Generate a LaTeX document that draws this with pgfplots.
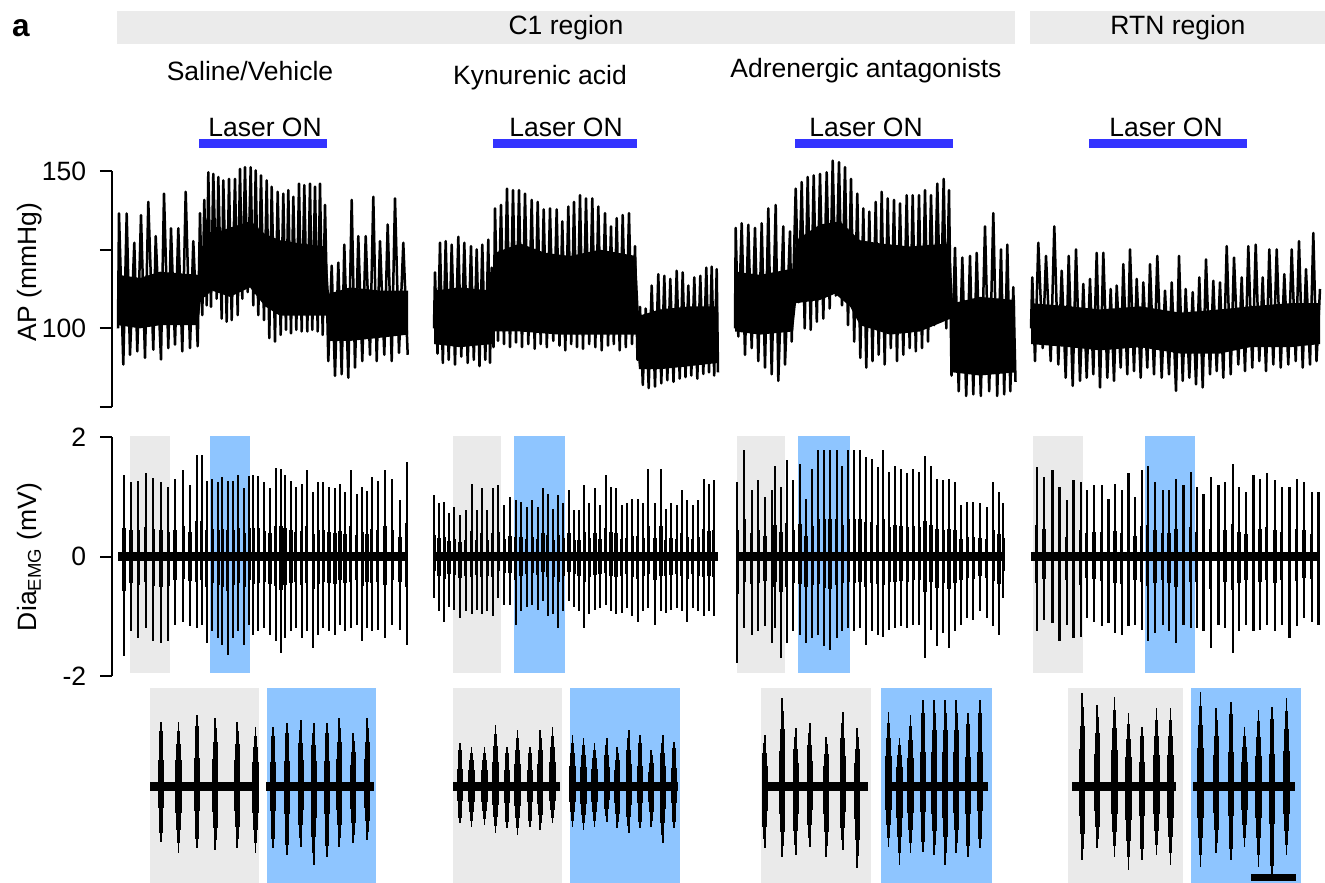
\documentclass[border=0pt]{standalone}
\usepackage{fontspec}
\setmainfont{Liberation Sans}
\usepackage{pgfplots}
\pgfplotsset{compat=1.18}
\usepackage{pgfplotstable}
\definecolor{hdr}{RGB}{235,235,235}
\definecolor{shgray}{RGB}{234,234,234}
\definecolor{shblue}{RGB}{142,197,255}
\definecolor{laser}{RGB}{51,51,255}
\newcommand\fs{\fontsize{10.6pt}{12.7pt}\selectfont}

% ---------- AP traces (x in px, y in mmHg) ----------
\pgfplotstableread{
x y
118.0 100.0
119.0 136.5
123.3 88.5
126.7 136.5
130.0 91.6
134.3 127.2
137.3 92.7
141.0 136.0
145.0 90.6
148.3 140.2
153.3 93.2
155.7 129.3
161.0 90.1
164.0 142.8
168.3 93.7
171.0 131.8
175.0 94.8
178.3 131.8
182.3 92.7
185.7 143.4
190.0 93.7
193.3 127.7
197.7 94.3
200.0 136.6
202.3 104.2
204.3 140.8
206.7 107.3
208.3 149.6
211.0 106.8
213.3 149.1
216.7 109.4
218.3 148.1
221.7 103.1
223.3 147.0
226.7 102.1
229.0 147.5
231.7 102.6
235.0 147.5
237.7 104.2
240.0 150.7
242.3 109.4
245.0 151.2
247.7 111.5
250.7 151.2
253.3 107.3
255.7 150.2
258.3 104.2
261.0 148.6
264.0 102.6
266.7 147.0
269.3 96.9
271.7 145.0
275.0 95.8
277.7 143.4
280.7 97.9
283.3 142.8
286.0 99.5
288.3 143.9
291.0 98.4
293.3 141.8
296.3 99.5
299.0 146.0
301.7 99.0
304.3 145.5
307.3 99.0
310.0 146.0
312.3 99.5
315.0 145.0
317.7 99.0
320.0 146.0
322.7 97.9
325.0 139.2
328.3 89.6
331.7 119.9
335.0 84.9
338.3 120.9
341.7 85.4
344.3 126.6
348.3 84.3
351.7 140.8
355.0 87.5
358.3 129.3
362.3 89.6
365.7 129.3
370.0 91.6
373.3 141.8
376.7 89.6
380.0 127.7
384.3 91.6
387.7 133.0
391.7 89.6
395.0 141.3
399.0 92.2
403.3 127.2
407.7 91.6
}\apA
\pgfplotstableread{
x y
434.0 100.0
435.0 117.8
437.5 92.0
440.0 127.2
442.8 89.0
445.7 127.7
448.7 90.0
451.7 126.6
455.0 88.5
458.3 129.1
461.3 91.0
464.3 127.2
467.7 89.0
471.0 126.1
473.8 90.0
476.7 125.1
479.5 88.0
482.3 126.6
485.3 90.0
488.3 128.2
490.0 89.0
491.7 119.3
493.5 94.0
495.0 138.1
498.0 96.0
501.0 139.2
504.0 95.0
507.0 144.4
510.0 94.0
513.0 143.9
516.0 95.5
519.0 143.9
522.0 94.0
525.0 142.8
528.3 95.0
531.7 140.8
534.7 93.5
537.7 140.2
540.7 95.0
543.7 137.8
546.8 94.0
550.0 138.1
553.3 96.0
556.7 137.8
559.5 94.5
562.3 134.0
565.3 93.0
568.3 138.7
571.2 95.0
574.0 140.2
577.0 94.0
580.0 142.3
583.0 93.5
586.0 141.3
589.2 95.0
592.3 141.3
595.3 94.0
598.3 138.7
601.7 93.0
605.0 136.6
608.0 94.5
611.0 132.4
613.8 95.0
616.7 135.0
619.7 93.0
622.7 136.0
625.8 94.0
629.0 136.6
632.0 95.0
635.0 126.1
637.5 90.0
640.0 106.8
642.8 82.0
645.7 106.3
648.7 81.0
651.7 113.6
655.0 81.5
658.3 117.2
661.3 82.5
664.3 116.7
667.3 83.5
670.3 115.7
673.5 83.0
676.7 118.3
679.7 84.0
682.7 117.8
685.5 84.5
688.3 113.6
691.3 85.0
694.3 116.2
697.3 84.0
700.3 116.7
703.3 85.5
706.3 119.3
709.0 86.0
711.7 119.6
714.2 85.0
716.7 118.8
718.0 86.0
}\apB
\pgfplotstableread{
x y
735.0 100.0
735.7 131.9
738.3 97.4
741.7 133.4
745.0 91.6
748.3 132.9
751.7 93.7
755.0 131.9
758.3 89.6
761.7 133.4
765.0 87.5
768.3 138.1
771.7 85.4
775.7 139.2
778.3 83.3
783.3 132.4
785.0 88.5
790.0 130.8
791.7 95.8
795.7 144.4
798.7 108.3
801.7 146.5
804.7 100.0
807.7 148.1
810.7 99.5
813.7 148.6
816.8 102.1
820.0 149.1
823.3 103.1
826.7 149.6
829.7 106.3
832.7 153.3
835.8 110.4
839.0 152.8
842.0 107.3
845.0 151.2
848.0 101.0
851.0 147.5
854.2 95.8
857.3 142.8
860.3 90.6
863.3 138.1
866.3 87.5
869.3 137.1
872.5 89.6
875.7 140.2
878.7 91.6
881.7 143.4
884.7 88.5
887.7 141.3
890.8 93.7
894.0 140.8
897.0 89.6
900.0 139.7
903.3 91.6
906.7 142.3
909.7 93.7
912.7 142.3
915.8 92.7
919.0 142.3
922.0 93.7
925.0 143.9
928.0 95.8
931.0 142.3
934.2 101.0
937.3 146.0
940.5 102.1
943.7 147.5
946.3 100.0
949.0 143.9
951.5 85.0
955.0 125.6
958.7 80.0
962.3 122.5
966.2 78.5
970.0 123.0
973.3 79.0
976.7 124.0
980.8 78.5
985.0 132.4
989.2 80.0
993.3 136.6
997.2 78.5
1001.0 125.1
1004.2 79.0
1007.3 126.6
1010.3 80.0
1013.3 113.1
1015.5 83.0
}\apC
\pgfplotstableread{
x y
1031.0 100.0
1032.3 116.2
1035.0 89.6
1038.3 127.2
1042.7 93.7
1046.0 123.0
1050.7 89.6
1054.3 132.4
1058.3 88.5
1061.7 118.3
1065.7 84.3
1068.7 123.0
1072.7 81.7
1076.0 125.1
1080.0 83.3
1083.3 114.1
1086.7 84.3
1090.0 115.7
1093.3 85.4
1096.7 124.0
1100.0 81.2
1103.3 124.0
1107.3 84.3
1110.7 112.5
1114.0 83.3
1116.7 113.6
1120.7 87.5
1123.3 120.4
1127.3 85.4
1130.0 125.1
1134.0 86.4
1136.7 115.7
1140.7 84.3
1143.3 114.6
1147.3 87.5
1150.0 120.4
1154.0 85.4
1157.3 123.0
1161.7 84.3
1165.0 112.0
1169.0 85.4
1171.7 114.6
1176.0 80.1
1179.0 123.0
1182.7 83.3
1185.7 112.5
1189.3 84.3
1192.7 111.5
1196.0 82.2
1199.3 116.2
1202.7 81.2
1206.0 121.9
1210.0 85.4
1213.3 115.1
1216.7 86.4
1220.0 114.6
1223.3 84.3
1226.7 126.1
1230.7 85.4
1234.0 122.5
1238.3 88.5
1241.7 116.2
1245.0 86.4
1248.3 126.1
1252.3 87.5
1255.7 126.6
1259.3 89.6
1262.7 116.2
1266.0 86.4
1269.3 125.1
1273.3 88.5
1276.7 125.1
1280.7 87.5
1284.3 117.2
1288.3 88.5
1291.7 125.1
1295.7 89.6
1299.0 127.7
1302.7 87.5
1306.0 118.8
1310.0 88.5
1313.3 130.3
1316.5 89.6
1320.0 112.5
}\apD

% ---------- EMG bursts (x in px, top and bottom in mV) ----------
\pgfplotstableread{
x t b
124.0 1.36 -1.67
131.0 1.25 -1.25
138.3 1.26 -1.36
145.7 1.39 -1.20
153.3 1.31 -1.42
161.0 1.25 -1.45
168.3 1.16 -1.42
175.0 1.29 -1.14
183.3 1.45 -1.09
190.0 1.19 -1.17
196.7 1.70 -1.20
201.7 1.70 -1.14
206.7 1.27 -1.45
212.3 1.30 -1.25
218.3 1.25 -1.36
222.3 1.33 -1.48
227.7 1.26 -1.64
233.3 1.27 -1.36
238.3 1.36 -1.25
244.3 1.14 -1.48
249.3 1.35 -1.14
253.3 1.36 -1.31
258.3 1.35 -1.25
264.3 1.24 -1.20
270.0 1.14 -1.31
275.7 1.48 -1.42
281.0 1.47 -1.61
285.0 1.36 -1.36
291.0 1.27 -1.25
295.7 1.16 -1.20
301.7 1.22 -1.36
306.7 1.44 -1.25
313.3 1.08 -1.53
318.3 1.25 -1.31
323.3 1.25 -1.20
329.0 1.16 -1.25
335.0 1.14 -1.31
340.0 1.22 -1.14
345.0 1.08 -1.25
350.7 1.44 -1.20
356.7 1.05 -1.14
362.3 1.16 -1.42
367.0 1.10 -1.20
371.7 1.33 -1.25
377.7 1.27 -1.23
385.0 1.44 -1.36
392.3 1.29 -1.14
400.0 0.94 -1.23
406.7 1.58 -1.48
}\emgA
\pgfplotstableread{
x t b
434.3 1.03 -0.70
439.0 0.89 -0.92
444.3 0.91 -1.09
449.0 0.72 -0.84
454.3 0.83 -0.89
460.0 0.69 -1.03
465.7 0.78 -0.92
471.7 1.22 -0.97
476.7 0.78 -0.89
481.7 1.14 -0.97
487.3 0.78 -0.92
492.7 1.14 -1.00
498.3 1.19 -0.70
504.3 0.86 -0.81
510.0 1.00 -0.81
515.7 0.94 -1.14
521.0 0.91 -0.92
526.7 0.83 -0.84
532.3 0.94 -0.81
537.7 0.83 -0.89
543.0 1.14 -0.75
547.7 1.05 -1.00
553.3 0.80 -0.97
558.3 1.03 -1.20
563.3 0.89 -0.92
569.0 1.11 -0.75
574.3 0.78 -0.84
579.0 0.78 -0.92
584.3 1.19 -1.20
589.3 0.89 -0.97
595.0 1.14 -0.89
600.0 0.86 -0.86
605.7 1.36 -0.81
611.0 1.16 -0.92
616.0 1.14 -0.97
621.7 0.86 -0.95
626.7 0.89 -0.86
632.3 0.97 -1.00
637.7 0.97 -1.09
643.3 0.89 -0.92
648.3 1.47 -0.86
655.0 0.89 -1.14
661.0 1.47 -0.92
665.7 0.80 -0.95
671.0 0.89 -0.89
676.7 0.86 -0.86
681.7 1.11 -0.92
687.3 0.94 -1.09
692.7 0.86 -0.86
698.3 0.94 -0.92
703.7 1.30 -1.00
709.0 1.22 -0.92
713.7 1.28 -1.00
}\emgB
\pgfplotstableread{
x t b
737.3 1.25 -1.78
744.3 1.78 -1.20
751.7 1.11 -1.31
758.3 1.28 -1.25
765.0 1.00 -1.17
772.3 1.11 -1.45
775.0 1.52 -1.20
781.0 1.16 -1.70
786.7 1.61 -1.45
793.3 1.28 -1.25
800.0 1.55 -1.31
806.0 0.97 -1.45
812.3 1.47 -1.36
818.3 1.78 -1.31
824.3 1.78 -1.50
830.0 1.78 -1.56
836.7 1.78 -1.36
842.3 1.52 -1.25
848.3 1.78 -1.20
854.3 1.78 -1.25
860.0 1.78 -1.20
865.7 1.66 -1.48
871.7 1.64 -1.25
877.7 1.50 -1.31
883.3 1.78 -1.34
889.3 1.42 -1.23
895.0 1.52 -1.20
901.0 1.47 -1.17
907.3 1.39 -1.20
913.3 1.47 -1.14
919.3 1.42 -1.14
925.0 1.69 -1.70
931.0 1.52 -1.23
937.0 1.30 -1.50
943.3 1.28 -1.28
949.0 1.30 -1.53
955.0 1.25 -1.25
961.0 0.86 -1.14
967.3 0.91 -1.03
973.3 0.91 -1.06
980.0 0.89 -0.92
986.7 0.83 -1.03
993.3 1.25 -1.17
999.0 1.08 -1.31
1003.3 0.89 -0.70
}\emgC
\pgfplotstableread{
x t b
1036.7 1.50 -1.25
1044.0 1.33 -1.06
1052.3 1.44 -1.11
1059.3 1.16 -1.42
1066.7 0.94 -1.14
1073.3 1.28 -1.36
1080.7 1.25 -1.34
1086.7 1.11 -1.03
1094.0 1.19 -1.09
1101.7 1.19 -1.17
1108.3 0.97 -1.11
1115.0 1.22 -1.28
1121.7 1.11 -1.31
1128.3 1.39 -1.17
1135.0 1.00 -1.14
1141.7 1.44 -1.23
1147.7 1.52 -1.42
1155.0 1.25 -1.28
1162.7 1.11 -1.14
1169.0 1.11 -1.25
1176.0 1.30 -1.45
1183.3 1.19 -1.14
1190.7 1.42 -1.20
1196.7 1.16 -1.20
1203.3 1.05 -1.25
1210.7 1.33 -1.53
1218.3 1.19 -1.14
1225.0 1.25 -1.20
1232.7 1.55 -1.61
1239.0 1.16 -1.25
1246.0 1.08 -1.14
1253.3 1.36 -1.25
1260.0 1.30 -1.23
1266.7 1.39 -1.14
1275.0 1.28 -1.25
1281.7 1.16 -1.14
1289.3 1.16 -1.36
1296.7 1.30 -1.17
1304.0 1.25 -1.03
1311.7 1.08 -1.09
1318.3 1.08 -1.14
}\emgD

% ---------- inset bursts (x in px, top/bottom in px from baseline) ----------
\pgfplotstableread{
x t b
161.0 64.3 -55.7
178.5 64.3 -67.3
197.0 71.0 -62.3
215.2 67.7 -64.0
237.2 64.3 -62.3
255.4 59.3 -67.3
272.9 59.3 -62.3
286.9 62.7 -69.0
300.8 66.0 -60.7
313.8 62.7 -79.0
327.1 62.7 -70.7
339.3 67.7 -60.7
353.3 52.7 -57.3
367.3 67.7 -54.0
459.9 42.7 -37.3
471.5 39.3 -40.7
484.4 39.3 -39.0
495.6 61.0 -47.3
507.1 39.3 -42.3
517.6 56.0 -49.0
529.9 39.3 -40.7
540.3 56.0 -44.0
552.6 59.3 -37.3
572.5 51.0 -40.7
583.4 47.7 -44.0
594.5 42.7 -40.7
606.8 47.7 -35.7
617.3 39.3 -42.3
628.8 56.0 -47.3
640.0 51.0 -42.3
651.2 36.0 -40.7
662.7 51.0 -57.3
673.9 44.3 -42.3
764.7 51.0 -62.3
782.2 87.7 -70.7
795.8 57.7 -69.0
809.7 62.7 -60.7
826.2 49.3 -70.7
842.7 74.3 -64.0
857.3 57.7 -82.3
888.5 74.3 -60.7
899.5 47.7 -79.0
910.4 71.0 -67.3
922.9 86.0 -65.7
934.2 86.0 -69.0
945.2 86.0 -79.0
956.2 86.0 -67.3
968.0 72.7 -70.7
980.0 86.0 -62.3
1082.2 92.7 -74.0
1097.3 81.0 -62.3
1114.5 89.3 -70.7
1128.4 72.7 -84.0
1141.9 59.3 -74.0
1156.6 77.7 -69.0
1170.5 77.7 -79.0
1200.5 94.3 -80.7
1216.3 77.7 -67.3
1231.0 84.3 -74.0
1244.5 59.3 -60.7
1258.4 76.0 -80.7
1272.0 79.3 -94.0
1286.6 87.7 -69.0
}\ins

\pgfplotsset{every tick label/.append style={font=\fs}}

\begin{document}
\begin{tikzpicture}
% ===== background: header bars, laser bars, shaded windows =====
\begin{axis}[at={(0pt,-353.2pt)}, anchor=south west, scale only axis,
  width=530pt, height=353.2pt, xmin=0, xmax=1325, ymin=0, ymax=883,
  y dir=reverse, hide axis, clip=false]
\addplot[fill=hdr, draw=none] coordinates {(117,11) (1015,11) (1015,44) (117,44)} -- cycle;
\addplot[fill=hdr, draw=none] coordinates {(1030,11) (1325,11) (1325,44) (1030,44)} -- cycle;
\addplot[laser, line width=3.3pt] coordinates {(199,143.5) (327,143.5)};
\addplot[laser, line width=3.3pt] coordinates {(493,143.5) (637,143.5)};
\addplot[laser, line width=3.3pt] coordinates {(795,143.5) (953,143.5)};
\addplot[laser, line width=3.3pt] coordinates {(1089,143.5) (1247,143.5)};
% EMG windows
\addplot[fill=shgray, draw=none] coordinates {(130,436) (170,436) (170,673) (130,673)} -- cycle;
\addplot[fill=shblue, draw=none] coordinates {(210,436) (250,436) (250,673) (210,673)} -- cycle;
\addplot[fill=shgray, draw=none] coordinates {(453,436) (501,436) (501,673) (453,673)} -- cycle;
\addplot[fill=shblue, draw=none] coordinates {(514,436) (565,436) (565,673) (514,673)} -- cycle;
\addplot[fill=shgray, draw=none] coordinates {(737,436) (785,436) (785,673) (737,673)} -- cycle;
\addplot[fill=shblue, draw=none] coordinates {(798,436) (850,436) (850,673) (798,673)} -- cycle;
\addplot[fill=shgray, draw=none] coordinates {(1033,436) (1083,436) (1083,673) (1033,673)} -- cycle;
\addplot[fill=shblue, draw=none] coordinates {(1145,436) (1195,436) (1195,673) (1145,673)} -- cycle;
% inset windows
\addplot[fill=shgray, draw=none] coordinates {(150,688) (259,688) (259,883) (150,883)} -- cycle;
\addplot[fill=shblue, draw=none] coordinates {(267,688) (376,688) (376,883) (267,883)} -- cycle;
\addplot[fill=shgray, draw=none] coordinates {(453,688) (562,688) (562,883) (453,883)} -- cycle;
\addplot[fill=shblue, draw=none] coordinates {(570,688) (680,688) (680,883) (570,883)} -- cycle;
\addplot[fill=shgray, draw=none] coordinates {(761,688) (871,688) (871,883) (761,883)} -- cycle;
\addplot[fill=shblue, draw=none] coordinates {(881,688) (992,688) (992,883) (881,883)} -- cycle;
\addplot[fill=shgray, draw=none] coordinates {(1068,688) (1183,688) (1183,883) (1068,883)} -- cycle;
\addplot[fill=shblue, draw=none] coordinates {(1191,688) (1301,688) (1301,883) (1191,883)} -- cycle;
\end{axis}

% ===== AP =====
\begin{axis}[at={(44.8pt,-162.8pt)}, anchor=south west, scale only axis,
  width=485.2pt, height=94.4pt, xmin=112, xmax=1325, ymin=75, ymax=150,
  axis x line=none, axis y line*=left, ytick={75,100,125,150},
  yticklabels={,100,,150}, tick align=outside, major tick length=4.8pt,
  yticklabel style={xshift=-2pt},
  axis line style={line width=0.8pt}, every tick/.style={black, line width=0.8pt},
  clip=false]
\addplot[fill=black, draw=none] coordinates {(118,117) (140,116) (160,118) (198,117) (201,125) (212,130) (230,132) (250,134) (265,130) (280,128) (300,127) (326,126) (329,111) (350,113) (380,112) (408,112) (408,98) (380,97) (350,96) (329,96) (326,104) (300,104) (280,104) (265,107) (250,113) (230,110) (212,112) (201,109) (198,101) (160,101) (140,100) (118,101)} -- cycle;
\addplot[fill=black, draw=none] coordinates {(434,112) (460,113) (492,112) (495,124) (520,127) (545,124) (570,123) (600,125) (636,123) (639,104) (660,106) (690,107) (718,107) (718,89) (690,88) (660,87) (639,87) (636,98) (600,98) (560,98) (520,99) (495,99) (492,95) (460,94) (434,95)} -- cycle;
\addplot[fill=black, draw=none] coordinates {(735,118) (760,117) (793,119) (796,128) (820,133) (840,134) (860,128) (880,127) (910,126) (950,127) (953,108) (980,110) (1015,109) (1015,86) (980,85) (953,86) (950,103) (920,99) (890,98) (860,101) (850,107) (835,111) (820,109) (796,108) (793,99) (760,98) (735,99)} -- cycle;
\addplot[fill=black, draw=none] coordinates {(1031,108) (1070,107) (1100,106) (1140,107) (1180,105) (1220,106) (1250,107) (1290,108) (1320,108) (1320,95) (1290,94) (1250,94) (1220,92) (1180,92) (1140,94) (1100,93) (1070,94) (1031,95)} -- cycle;
\addplot[black, line width=1.0pt, line join=round] table[x=x,y=y]{\apA};
\addplot[black, line width=1.0pt, line join=round] table[x=x,y=y]{\apB};
\addplot[black, line width=1.0pt, line join=round] table[x=x,y=y]{\apC};
\addplot[black, line width=1.0pt, line join=round] table[x=x,y=y]{\apD};
\end{axis}

% ===== EMG =====
\begin{axis}[at={(44.8pt,-270.4pt)}, anchor=south west, scale only axis,
  width=485.2pt, height=95.6pt, xmin=112, xmax=1325, ymin=-2, ymax=2,
  axis x line=none, axis y line*=left, ytick={-2,0,2},
  yticklabels={-2,0,2}, tick align=outside, major tick length=4.8pt,
  yticklabel style={xshift=-2pt},
  axis line style={line width=0.8pt}, every tick/.style={black, line width=0.8pt},
  clip=false]
\addplot[black, line width=3.4pt] coordinates {(118,0) (408,0)};
\addplot[black, line width=3.4pt] coordinates {(433,0) (718,0)};
\addplot[black, line width=3.4pt] coordinates {(736,0) (1004,0)};
\addplot[black, line width=3.4pt] coordinates {(1031,0) (1320,0)};
\addplot[ycomb, black, line width=0.95pt] table[x=x,y=t]{\emgA};
\addplot[ycomb, black, line width=0.95pt] table[x=x,y=b]{\emgA};
\addplot[ycomb, black, line width=1.25pt] table[x=x,y expr=0.35*\thisrow{t}]{\emgA};
\addplot[ycomb, black, line width=1.25pt] table[x=x,y expr=0.35*\thisrow{b}]{\emgA};
\addplot[ycomb, black, line width=0.95pt] table[x=x,y=t]{\emgB};
\addplot[ycomb, black, line width=0.95pt] table[x=x,y=b]{\emgB};
\addplot[ycomb, black, line width=1.25pt] table[x=x,y expr=0.35*\thisrow{t}]{\emgB};
\addplot[ycomb, black, line width=1.25pt] table[x=x,y expr=0.35*\thisrow{b}]{\emgB};
\addplot[ycomb, black, line width=0.95pt] table[x=x,y=t]{\emgC};
\addplot[ycomb, black, line width=0.95pt] table[x=x,y=b]{\emgC};
\addplot[ycomb, black, line width=1.25pt] table[x=x,y expr=0.35*\thisrow{t}]{\emgC};
\addplot[ycomb, black, line width=1.25pt] table[x=x,y expr=0.35*\thisrow{b}]{\emgC};
\addplot[ycomb, black, line width=0.95pt] table[x=x,y=t]{\emgD};
\addplot[ycomb, black, line width=0.95pt] table[x=x,y=b]{\emgD};
\addplot[ycomb, black, line width=1.25pt] table[x=x,y expr=0.35*\thisrow{t}]{\emgD};
\addplot[ycomb, black, line width=1.25pt] table[x=x,y expr=0.35*\thisrow{b}]{\emgD};
\end{axis}

% ===== insets =====
\begin{axis}[at={(0pt,-353.2pt)}, anchor=south west, scale only axis,
  width=530pt, height=78pt, xmin=0, xmax=1325, ymin=-97, ymax=98,
  hide axis, clip=false]
\addplot[black, line width=3.6pt] coordinates {(150,0) (257,0)};
\addplot[black, line width=3.6pt] coordinates {(266,0) (374,0)};
\addplot[black, line width=3.6pt] coordinates {(453,0) (560,0)};
\addplot[black, line width=3.6pt] coordinates {(570,0) (678,0)};
\addplot[black, line width=3.6pt] coordinates {(762,0) (868,0)};
\addplot[black, line width=3.6pt] coordinates {(885,0) (988,0)};
\addplot[black, line width=3.6pt] coordinates {(1072,0) (1176,0)};
\addplot[black, line width=3.6pt] coordinates {(1193,0) (1295,0)};
\addplot[ycomb, black, line width=0.7pt] table[x=x,y=t]{\ins};
\addplot[ycomb, black, line width=0.7pt] table[x=x,y=b]{\ins};
\addplot[ycomb, black, line width=1.3pt] table[x=x,y expr=0.85*\thisrow{t}]{\ins};
\addplot[ycomb, black, line width=1.3pt] table[x=x,y expr=0.85*\thisrow{b}]{\ins};
\addplot[ycomb, black, line width=1.9pt] table[x=x,y expr=0.65*\thisrow{t}]{\ins};
\addplot[ycomb, black, line width=1.9pt] table[x=x,y expr=0.65*\thisrow{b}]{\ins};
\addplot[ycomb, black, line width=2.5pt] table[x=x,y expr=0.4*\thisrow{t}]{\ins};
\addplot[ycomb, black, line width=2.5pt] table[x=x,y expr=0.4*\thisrow{b}]{\ins};
\addplot[black, line width=2.8pt] coordinates {(1251,-91) (1296,-91)};
\end{axis}

% ===== texts =====
\begin{scope}[x=0.4pt,y=-0.4pt]
\node[font=\fontsize{12.6pt}{15pt}\selectfont\bfseries] at (21,28) {a};
\node[font=\fs] at (566,28) {C1 region};
\node[font=\fs] at (1178,28) {RTN region};
\node[font=\fs] at (250,71) {Saline/Vehicle};
\node[font=\fs] at (540,78) {Kynurenic acid};
\node[font=\fs] at (866,71) {Adrenergic antagonists};
\node[font=\fs] at (265,127.5) {Laser ON};
\node[font=\fs] at (566,127.5) {Laser ON};
\node[font=\fs] at (866,127.5) {Laser ON};
\node[font=\fs] at (1166,127.5) {Laser ON};
\node[font=\fs, rotate=90] at (30,272) {AP (mmHg)};
\node[font=\fs, rotate=90] at (30,557) {Dia\textsubscript{EMG} (mV)};
\end{scope}
\pgfresetboundingbox
\path[use as bounding box] (0pt,0pt) rectangle (530pt,-353.2pt);
\end{tikzpicture}
\end{document}
